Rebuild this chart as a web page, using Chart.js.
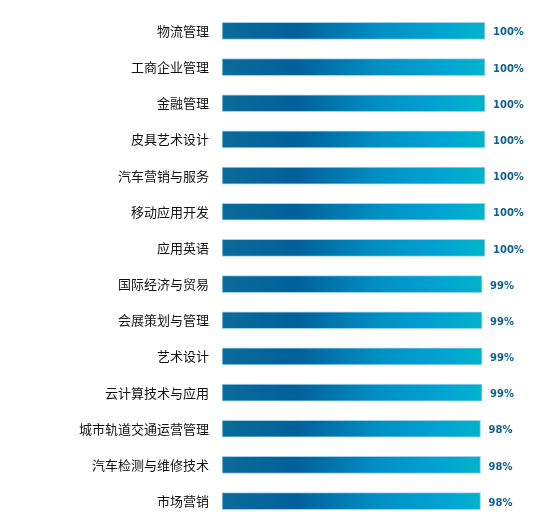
<!DOCTYPE html>
<html lang="zh">
<head>
    <meta charset="utf-8">
    <title>专业比例</title>
    <script src="https://cdn.jsdelivr.net/npm/chart.js@4.4.0/dist/chart.umd.min.js"></script>
    <style>
        html, body {
            margin: 0;
            padding: 0;
            background: #fff;
        }

        .wrap {
            position: relative;
            width: 548px;
            height: 532px;
        }
    </style>
</head>
<body>

    <div class="wrap">
        <canvas id="myChart"></canvas>
    </div>

    <script>
        // categories and values
        var majors = ['物流管理', '工商企业管理', '金融管理', '皮具艺术设计', '汽车营销与服务', '移动应用开发', '应用英语',
            '国际经济与贸易', '会展策划与管理', '艺术设计', '云计算技术与应用', '城市轨道交通运营管理', '汽车检测与维修技术', '市场营销'];
        var rates = [100, 100, 100, 100, 100, 100, 100, 98.9, 98.9, 98.9, 98.9, 98.3, 98.3, 98.3];
        var rateLabels = ['100%', '100%', '100%', '100%', '100%', '100%', '100%', '99%', '99%', '99%', '99%', '98%', '98%', '98%'];

        // value text at the end of each bar
        var valueLabels = {
            id: 'valueLabels',
            afterDatasetsDraw: function (chart) {
                var ctx = chart.ctx;
                var meta = chart.getDatasetMeta(0);
                ctx.save();
                ctx.font = 'bold 10px "DejaVu Sans", Verdana, sans-serif';
                ctx.fillStyle = '#0f5f8f';
                ctx.textAlign = 'left';
                ctx.textBaseline = 'middle';
                meta.data.forEach(function (bar, i) {
                    ctx.fillText(rateLabels[i], bar.x + 8, bar.y + 2);
                });
                ctx.restore();
            }
        };

        function barGradient(context) {
            var chart = context.chart;
            var area = chart.chartArea;
            if (!area) {
                return '#0070a8';
            }
            var g = chart.ctx.createLinearGradient(area.left, 0, area.right, 0);
            g.addColorStop(0, '#0a6b9b');
            g.addColorStop(0.28, '#00609a');
            g.addColorStop(0.6, '#0090c4');
            g.addColorStop(0.82, '#00a2d2');
            g.addColorStop(1, '#00b4cc');
            return g;
        }

        var ctx = document.getElementById('myChart').getContext('2d');
        var myChart = new Chart(ctx, {
            type: 'bar',
            data: {
                labels: majors,
                datasets: [{
                    data: rates,
                    backgroundColor: barGradient,
                    borderColor: 'rgba(150, 205, 232, 0.9)',
                    borderWidth: 1,
                    borderSkipped: false,
                    barThickness: 17,
                }]
            },
            plugins: [valueLabels],
            options: {
                indexAxis: 'y',
                responsive: true,
                maintainAspectRatio: false,
                animation: false,
                layout: {
                    padding: {
                        top: 5,
                        bottom: 8,
                        right: 63,
                        left: 0
                    }
                },
                plugins: {
                    legend: { display: false },
                    tooltip: { enabled: false }
                },
                scales: {
                    x: {
                        display: false,
                        min: 0,
                        max: 100
                    },
                    y: {
                        grid: { display: false },
                        border: { display: false },
                        ticks: {
                            color: '#111',
                            padding: 5,
                            font: {
                                family: '"Noto Sans CJK SC", sans-serif',
                                size: 13
                            }
                        },
                        afterFit: function (scale) {
                            scale.width = 222;
                        }
                    }
                }
            }
        });
    </script>

</body>
</html>
